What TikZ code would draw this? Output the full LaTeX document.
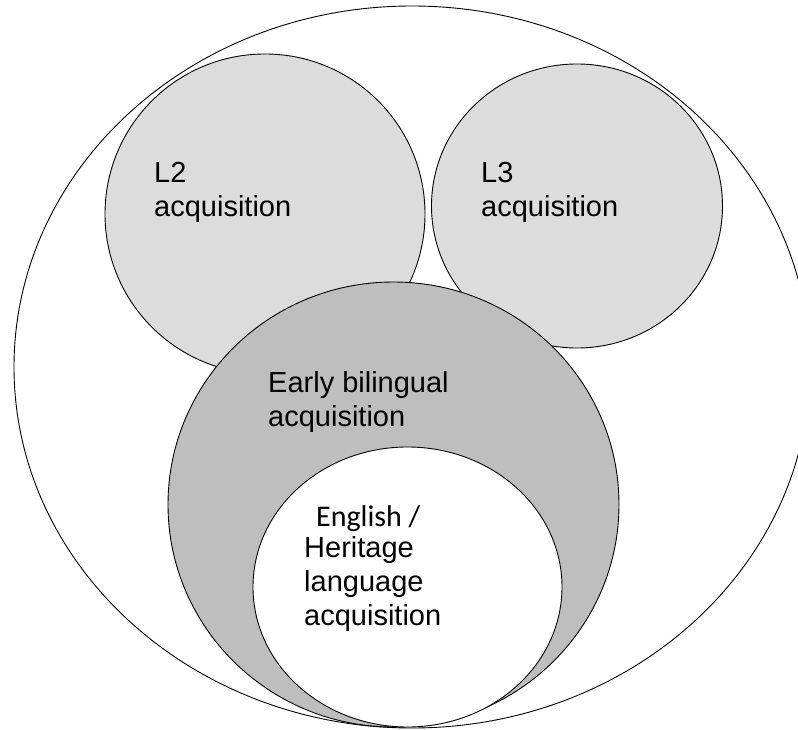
\documentclass[tikz,border=0pt]{standalone}
\usepackage{fontspec}
\setmainfont{Liberation Sans}
\newfontfamily\calfont{Carlito}
\usetikzlibrary{shapes.geometric}
\definecolor{lightfill}{RGB}{220,220,220}
\definecolor{midfill}{RGB}{190,190,190}
\tikzset{
  set/.style={ellipse, draw=black, line width=0.9pt, inner sep=0pt},
  lbl/.style={anchor=base west, inner sep=0pt, align=left, font=\fontsize{29}{34}\selectfont}
}
\begin{document}
\begin{tikzpicture}[x=1pt,y=-1pt]
\useasboundingbox (0,0) rectangle (798,730);
\begin{scope}
\clip (0,0) rectangle (798,730);
\node[set, fill=white, minimum width=796pt, minimum height=722pt] (outer) at (412,367) {};
\end{scope}
\node[set, fill=lightfill, minimum width=320pt, minimum height=320pt] (l2) at (265,214) {};
\node[set, fill=lightfill, minimum width=291pt, minimum height=284pt] (l3) at (577,206) {};
\node[set, fill=midfill, minimum width=451pt, minimum height=445pt] (early) at (393.5,504.5) {};
\node[set, fill=white, minimum width=309pt, minimum height=280pt] (heritage) at (407.5,587) {};
\node[lbl] (l2t) at (154,217) {L2\\acquisition};
\node[lbl] (l3t) at (481,217) {L3\\acquisition};
\node[lbl] (earlyt) at (268,426) {Early bilingual\\acquisition};
\node[lbl, font=\calfont\fontsize{30}{34}\selectfont] (engt) at (316,526) {English /};
\node[lbl] (herit) at (304,625) {Heritage\\language\\acquisition};
\end{tikzpicture}
\end{document}
